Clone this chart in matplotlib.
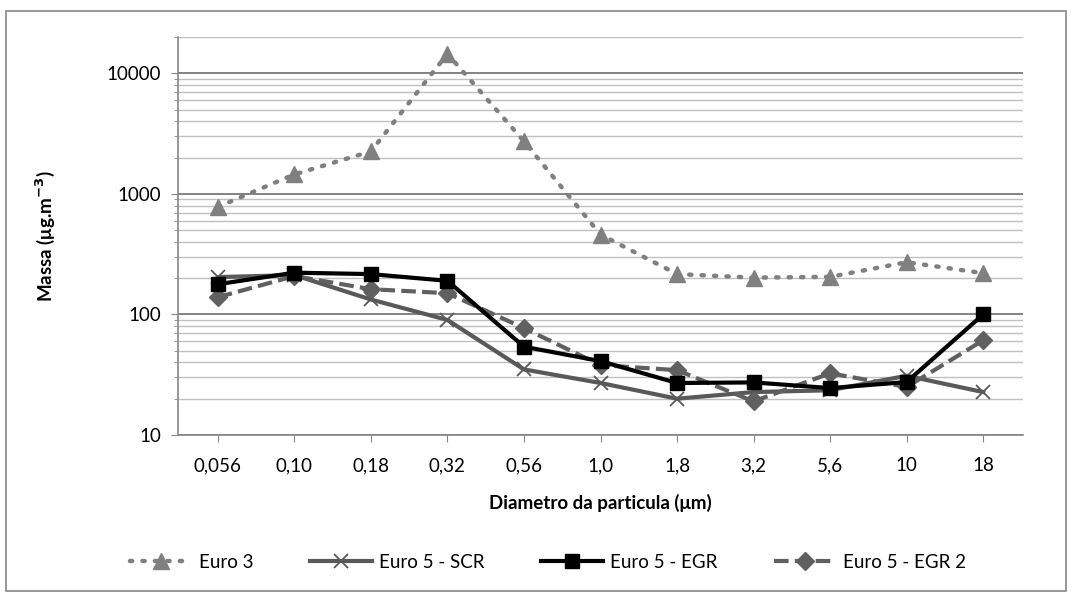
import matplotlib.pyplot as plt
from matplotlib.patches import Rectangle
from matplotlib.ticker import LogLocator, NullFormatter, FixedLocator
import numpy as np

plt.rcParams['font.family'] = ['Lato', 'DejaVu Sans']

diametros = ['0,056', '0,10', '0,18', '0,32', '0,56', '1,0', '1,8', '3,2', '5,6', '10', '18']
euro3 = [780, 1450, 2250, 14500, 2730, 460, 216, 202, 205, 271, 220]
euro5_scr = [204, 212, 133, 90, 35, 27, 20, 22.7, 23.5, 31, 22.7]
euro5_egr = [178, 222, 216, 190, 54, 41, 27, 27.3, 24.5, 27.5, 100]
euro5_egr2 = [139, 208, 162, 150, 77, 38, 34.5, 19, 32.5, 25, 61]


def main():
    fig = plt.figure(figsize=(10.73, 5.95), dpi=100)
    fig.patches.append(Rectangle((6 / 1073, 4 / 595), 1060 / 1073, 580 / 595,
                                 transform=fig.transFigure, fill=False,
                                 edgecolor='#868686', linewidth=1.2))
    ax = fig.add_axes([178 / 1073, 1 - 435 / 595, 845 / 1073, 398 / 595])
    x = np.arange(len(diametros))

    ax.plot(x, euro3, color='#808080', linestyle=(0, (0.5, 2.3)), dash_capstyle='round',
            linewidth=3.2, marker='^', markersize=12, label='Euro 3', zorder=3)
    ax.plot(x, euro5_scr, color='#595959', linewidth=3, marker='x', markersize=10,
            markeredgewidth=1.3, label='Euro 5 - SCR', zorder=4)
    ax.plot(x, euro5_egr, color='black', linewidth=3, marker='s', markersize=10,
            label='Euro 5 - EGR', zorder=5)
    ax.plot(x, euro5_egr2, color='#606060', linewidth=3, linestyle=(0, (3.5, 1.5)),
            marker='D', markersize=9, label='Euro 5 - EGR 2', zorder=4)

    ax.set_yscale('log')
    ax.set_ylim(10, 20000)
    ax.set_xlim(-0.52, 10.52)
    ax.yaxis.set_major_locator(FixedLocator([10, 100, 1000, 10000]))
    ax.set_yticklabels(['10', '100', '1000', '10000'])
    ax.yaxis.set_minor_locator(LogLocator(base=10, subs=np.arange(2, 10)))
    ax.yaxis.set_minor_formatter(NullFormatter())
    ax.grid(True, which='major', axis='y', color='#7a7a7a', linewidth=1.3)
    ax.grid(True, which='minor', axis='y', color='#c0c0c0', linewidth=1.0)
    ax.set_axisbelow(True)

    ax.set_xticks(x)
    ax.set_xticklabels(diametros)
    for s in ['top', 'right']:
        ax.spines[s].set_visible(False)
    for s in ['left', 'bottom']:
        ax.spines[s].set_color('#868686')
        ax.spines[s].set_linewidth(1.2)
    ax.tick_params(axis='both', which='both', color='#868686', labelsize=13.5, pad=7)
    ax.tick_params(axis='y', which='major', length=5)
    ax.tick_params(axis='y', which='minor', length=3)
    ax.tick_params(axis='x', length=5, pad=11)

    ax.set_xlabel('Diametro da particula (μm)', fontsize=13.5, fontweight='bold', labelpad=14)
    ax.set_ylabel('Massa (μg.m$^{\\mathbf{-3}}$)', fontsize=13.5, fontweight='bold', labelpad=36)

    fig.legend(loc='center', bbox_to_anchor=(548 / 1073, 1 - 562 / 595), ncol=4,
               frameon=False, fontsize=13.5, handlelength=3.3, columnspacing=3.0,
               handletextpad=0.4)

    fig.savefig('out.png', dpi=100)


if __name__ == '__main__':
    main()
